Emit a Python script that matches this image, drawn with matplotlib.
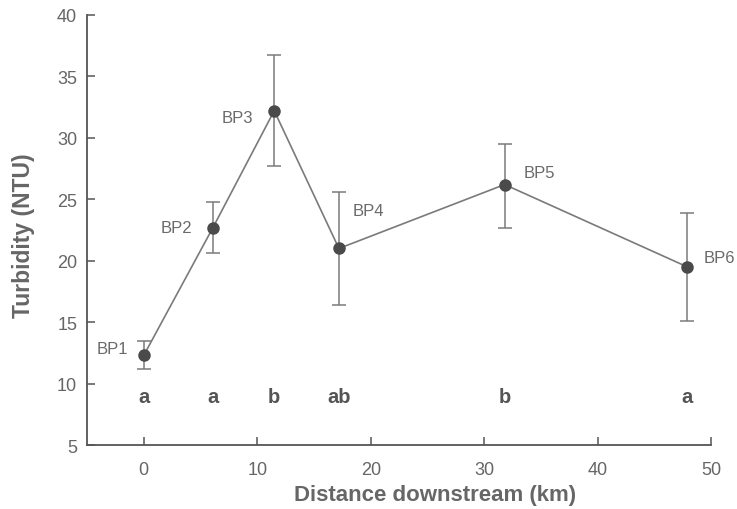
import matplotlib
matplotlib.use("Agg")
import matplotlib.pyplot as plt

plt.rcParams['font.family'] = ['Liberation Sans', 'DejaVu Sans']

# data
sites = ["BP1", "BP2", "BP3", "BP4", "BP5", "BP6"]
distance = [0.0, 6.1, 11.5, 17.2, 31.8, 47.9]
turbidity = [12.3, 22.7, 32.2, 21.0, 26.2, 19.5]
err_upper = [13.5, 24.8, 36.7, 25.6, 29.5, 23.9]
err_lower = [11.2, 20.6, 27.7, 16.4, 22.7, 15.1]
groups = ["a", "a", "b", "ab", "b", "a"]

# label offsets (points) for the site names
label_offsets = [(-11, 5), (-15, 0), (-15, -5), (10, 27), (14, 9), (12, 6.5)]

grey = "#6a6a6a"
fig = plt.figure(figsize=(7.37, 5.10), dpi=100)
ax = fig.add_axes([0.118, 0.125, 0.847, 0.844])

yerr = [[t - lo for t, lo in zip(turbidity, err_lower)],
        [hi - t for t, hi in zip(turbidity, err_upper)]]
ax.errorbar(distance, turbidity, yerr=yerr, fmt="none", ecolor="#7a7a7a",
            elinewidth=1.1, capsize=5, capthick=1.1, zorder=2)
ax.plot(distance, turbidity, color="#7a7a7a", lw=1.2, zorder=3)
ax.plot(distance, turbidity, "o", color="#4a4a4a", ms=8, zorder=4)

for name, x, y, (dx, dy) in zip(sites, distance, turbidity, label_offsets):
    ha = "right" if dx < 0 else "left"
    ax.annotate(name, (x, y), xytext=(dx, dy), textcoords="offset points",
                ha=ha, va="center", fontsize=12, color=grey)

for g, x in zip(groups, distance):
    ax.text(x, 9, g, ha="center", va="center", fontsize=14.5,
            fontweight="bold", color="#555555")

ax.set_xlim(-5, 50)
ax.set_ylim(5, 40)
ax.set_xticks(range(0, 51, 10))
ax.set_yticks(range(5, 41, 5))
for s in ["top", "right"]:
    ax.spines[s].set_visible(False)
for s in ["left", "bottom"]:
    ax.spines[s].set_color("#555555")
    ax.spines[s].set_linewidth(1.3)
ax.tick_params(direction="in", length=6, width=1.1, colors="#555555",
               labelsize=13, labelcolor="#666666")
ax.tick_params(axis="x", pad=11)
ax.tick_params(axis="y", pad=7)

ax.set_xlabel("Distance downstream (km)", fontsize=16, fontweight="bold",
              color="#666666")
ax.xaxis.set_label_coords(0.558, -0.091)
ax.set_ylabel("Turbidity (NTU)", fontsize=16.5, fontweight="bold",
              color="#666666")
ax.yaxis.set_label_coords(-0.084, 0.49)

fig.savefig("out.png", dpi=100)
